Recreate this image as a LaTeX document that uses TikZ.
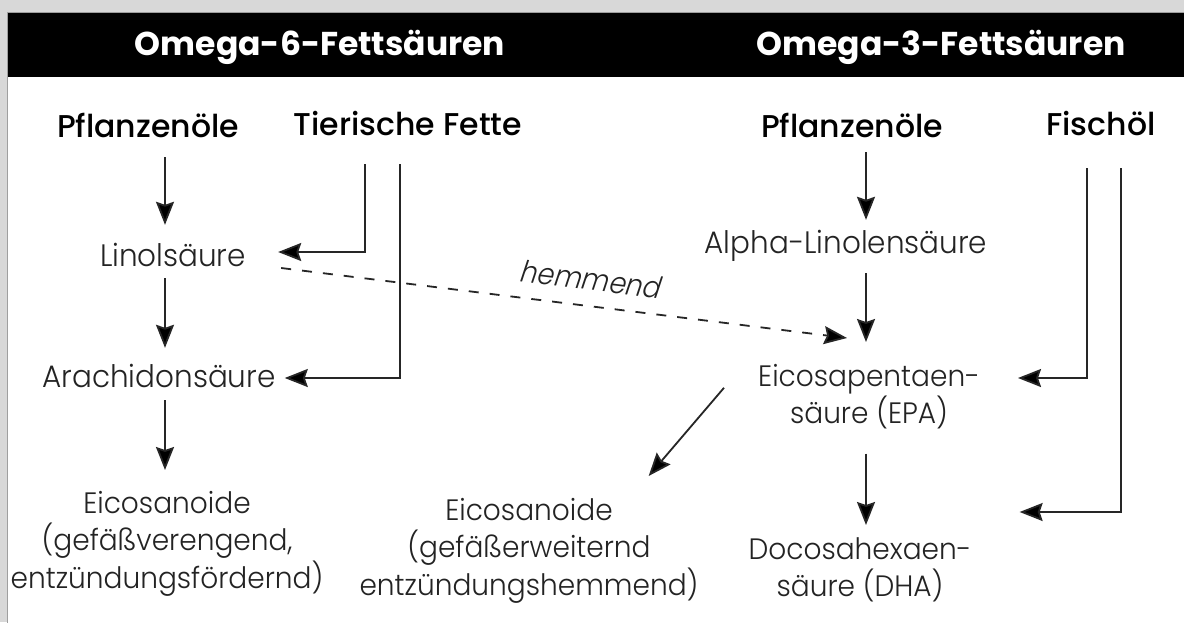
\documentclass[tikz,border=0pt]{standalone}
\usepackage{fontspec}
\setmainfont{Poppins}
\newfontfamily\lightfont{Poppins Light}[FakeStretch=0.95]
\newfontfamily\slantfont{Poppins Light}[FakeStretch=0.9, FakeSlant=0.2]
\newfontfamily\medfont{Poppins Medium}
\newfontfamily\boldfont{Poppins Bold}
\usetikzlibrary{arrows.meta, positioning, calc}
\definecolor{panelgray}{RGB}{216,216,216}
\definecolor{inkgray}{RGB}{35,35,35}

\tikzset{
  head/.style={anchor=base, text=white, font=\boldfont\fontsize{33}{38}\selectfont},
  source/.style={anchor=base, inner sep=0pt, text height=24pt, text depth=8pt,
    font=\medfont\fontsize{31.5}{36}\selectfont},
  acid/.style={anchor=base, inner sep=0pt, text height=24pt, text depth=8pt,
    text=inkgray, font=\lightfont\fontsize{31}{36}\selectfont},
  acidblock/.style={anchor=north, inner sep=0pt, align=center, text=inkgray,
    font=\lightfont\fontsize{29.5}{37.5}\selectfont},
  arr/.style={draw=black!85, line width=1.8pt,
    -{Stealth[length=23pt,width=18pt,inset=3pt,fill=black]}},
  hemm/.style={arr, dashed, dash pattern=on 10pt off 11pt}
}

\begin{document}
\begin{tikzpicture}[x=1pt, y=-1pt]
  \useasboundingbox (0,0) rectangle (1184,622);
  % background, panel and header bar
  \fill[panelgray] (0,0) rectangle (1184,622);
  \filldraw[fill=white, draw=gray!75, line width=1pt] (7.5,12.5) rectangle (1190,630);
  \fill[black] (8,13) rectangle (1184,77);

  \node[head] (h6) at (320,55) {Omega-6-Fettsäuren};
  \node[head] (h3) at (941,55) {Omega-3-Fettsäuren};

  % sources
  \node[source] (pfl6) at (148,137) {Pflanzenöle};
  \node[source] (tier) at (408,135) {Tierische Fette};
  \node[source] (pfl3) at (852,137) {Pflanzenöle};
  \node[source] (fisch) at (1101,135) {Fischöl};

  % fatty acids
  \node[acid] (linol) at (173,266) {Linolsäure};
  \node[acid] (arach) at (159,387) {Arachidonsäure};
  \node[acid] (alpha) at (846,253) {Alpha-Linolensäure};
  \node[acidblock] (epa) at (869,364) {Eicosapentaen-\\säure (EPA)};
  \node[acidblock] (dha) at (860,537) {Docosahexaen-\\säure (DHA)};
  \node[acidblock] (eico6) at (167,491) {Eicosanoide\\(gefäßverengend,\\entzündungsfördernd)};
  \node[acidblock] (eico3) at (529,498) {Eicosanoide\\(gefäßerweiternd\\entzündungshemmend)};

  \coordinate (c6) at (165,0);
  \coordinate (c3) at (866,0);
  \coordinate (k1) at (365,252);
  \coordinate (k2) at (400,378);
  \coordinate (k3) at (1087,378);
  \coordinate (k4) at (1121,512);

  % omega-6 chain
  \draw[arr, shorten <=12pt, shorten >=17pt] (pfl6.south -| c6) -- (linol.north -| c6);
  \draw[arr, shorten <=4pt, shorten >=15pt] (linol.south -| c6) -- (arach.north -| c6);
  \draw[arr, shorten <=5pt, shorten >=21pt] (arach.south -| c6) -- (eico6.north -| c6);
  \draw[arr, shorten <=21pt, shorten >=32pt] (tier.south -| k1) -- (k1) -- (k1 -| linol.east);
  \draw[arr, shorten <=21pt, shorten >=9pt] (tier.south -| k2) -- (k2) -- (k2 -| arach.east);

  % omega-3 chain
  \draw[arr, shorten <=7pt, shorten >=9pt] (pfl3.south -| c3) -- (alpha.north -| c3);
  \draw[arr, shorten <=12pt, shorten >=22pt] (alpha.south -| c3) -- (epa.north -| c3);
  \draw[arr, shorten <=24pt, shorten >=12pt] (epa.south -| c3) -- (dha.north -| c3);
  \draw[arr, shorten <=25pt, shorten >=38pt] (fisch.south -| k3) -- (k3) -- (k3 -| epa.east);
  \draw[arr, shorten <=25pt, shorten >=48pt] (fisch.south -| k4) -- (k4) -- (k4 -| dha.east);
  \draw[arr] ([shift={(-34pt,9pt)}]epa.west) -- ([shift={(-50pt,22pt)}]eico3.north east);

  % inhibition
  \draw[hemm] ([yshift=-10pt]linol.east) ++(35pt,0pt) -- ([shift={(-22pt,26pt)}]epa.north)
    node[pos=0.54, sloped, above=15pt, inner sep=0pt, text=inkgray,
      font=\slantfont\fontsize{30}{36}\selectfont] (hemmlabel) {hemmend};
\end{tikzpicture}
\end{document}
